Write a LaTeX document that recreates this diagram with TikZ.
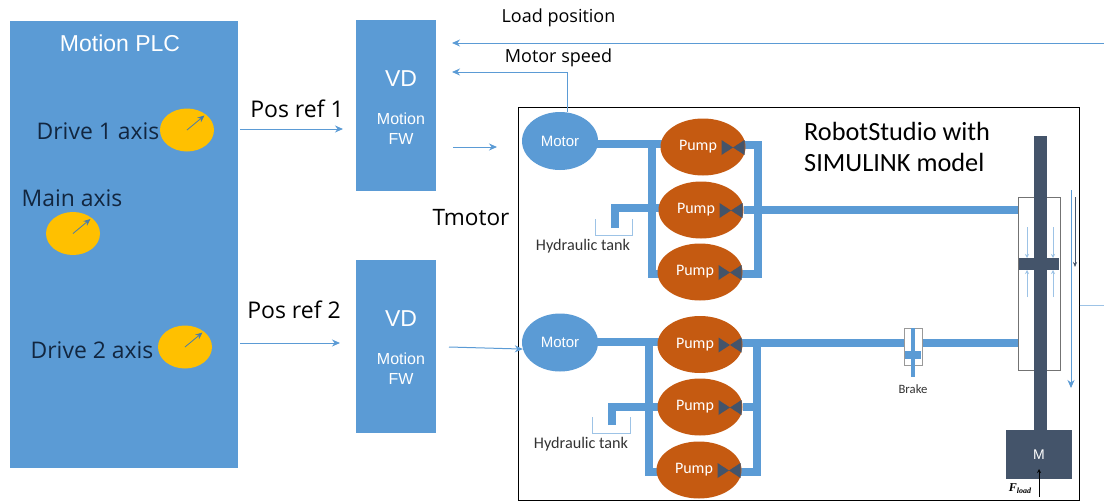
\documentclass[tikz,border=0pt]{standalone}
\usepackage{fontspec}
\setmainfont{Open Sans}
\newfontfamily\plcfont{Liberation Sans}
\newfontfamily\boxfont{Carlito}
\newfontfamily\forcefont{Liberation Serif}
\usepackage{tikz}
\usetikzlibrary{arrows.meta,backgrounds,shapes.geometric}
\definecolor{plcblue}{HTML}{5B9BD5}
\definecolor{pumporange}{HTML}{C55A11}
\definecolor{axisyellow}{HTML}{FFC000}
\definecolor{rodslate}{HTML}{44546A}
\definecolor{plctext}{HTML}{12263F}
\definecolor{tankline}{HTML}{9DC3E6}
\newcommand{\fsz}[1]{\fontsize{#1}{#1}\selectfont}
\newcommand{\pumptext}{\hspace*{-10pt}\raisebox{-4pt}{Pump}}
\tikzset{
  bluebox/.style={fill=plcblue,text=white,inner sep=0pt,align=center},
  motorell/.style={ellipse,fill=plcblue,text=white,minimum width=76pt,minimum height=58pt,inner sep=0pt,font=\plcfont\fsz{15}},
  pumpell/.style={ellipse,fill=pumporange,text=white,minimum width=85pt,minimum height=57pt,inner sep=0pt,font=\boxfont\fsz{16}},
  axisell/.style={ellipse,fill=axisyellow,minimum width=54pt,minimum height=43pt,inner sep=0pt},
  valve/.style={fill=rodslate},
  pipe/.style={draw=plcblue,line width=8pt},
  sig/.style={draw=plcblue,line width=1pt,-{Stealth[length=8pt,width=7pt]}},
  thinsig/.style={draw=plcblue,line width=0.6pt,-{Stealth[length=4pt,width=4pt]}},
  tank/.style={draw=tankline,line width=1pt},
  lbl/.style={inner sep=0pt,text=black},
  axislbl/.style={inner sep=0pt,text=plctext,font=\fsz{22.9}},
}
\begin{document}
\begin{tikzpicture}[x=1pt,y=-1pt]
  \useasboundingbox (0,0) rectangle (1104,501);
  % controllers
  \node[bluebox,minimum width=228pt,minimum height=447pt] (plc) at (124,244.5) {};
  \node[text=white,inner sep=0pt,font=\plcfont\fsz{23}] (plctitle) at (120,43) {Motion PLC};
  \node[bluebox,minimum width=80pt,minimum height=171pt] (vda) at (396,105.5) {};
  \node[bluebox,minimum width=80pt,minimum height=173pt] (vdb) at (396,346.5) {};
  \node[text=white,inner sep=0pt,font=\plcfont\fsz{23}] (vdatitle) at (401,79) {VD};
  \node[text=white,inner sep=0pt,align=center,font=\plcfont\fsz{16}] (vdafw) at (401,129) {Motion\\[4pt]FW};
  \node[text=white,inner sep=0pt,font=\plcfont\fsz{23}] (vdbtitle) at (401,319) {VD};
  \node[text=white,inner sep=0pt,align=center,font=\plcfont\fsz{16}] (vdbfw) at (401,369) {Motion\\[4pt]FW};
  % axes
  \node[axislbl] (drivealbl) at (98,131) {Drive 1 axis};
  \node[axislbl] (mainlbl) at (72,198) {Main axis};
  \node[axislbl] (driveblbl) at (92,350) {Drive 2 axis};
  \node[axisell] (drivea) at (187,130) {};
  \node[axisell] (mainax) at (73,233.5) {};
  \node[axisell] (driveb) at (185,347) {};
  \foreach \ax in {drivea,mainax,driveb}
    \draw[draw=plcblue!80!black,line width=0.8pt,-{Stealth[length=7pt,width=6pt]}] (\ax.center) -- ++(17.5,-14.5);
  % hydraulics box
  \begin{scope}[on background layer]
    \draw[black,line width=1pt,fill=white] (518,107.5) rectangle (1079.5,500);
  \end{scope}
  \node[lbl,align=left,anchor=west,font=\boxfont\fsz{26.3}] (robot) at (804,147) {RobotStudio with\\[5.5pt]SIMULINK model};
  \node[motorell] (motora) at (560,141) {Motor};
  \node[motorell] (motorb) at (560,342.5) {Motor};
  \node[pumpell] (pumpa) at (703,147) {\pumptext};
  \node[pumpell] (pumpb) at (701,210) {\pumptext};
  \node[pumpell] (pumpc) at (700,272) {\pumptext};
  \node[pumpell] (pumpd) at (700,344.5) {\pumptext};
  \node[pumpell] (pumpe) at (700,407) {\pumptext};
  \node[pumpell] (pumpf) at (699,470) {\pumptext};
  % valves on the pumps
  \foreach \pu in {pumpa,pumpb,pumpc,pumpd,pumpe,pumpf}
    \fill[valve] ([xshift=30pt,yshift=-1pt]\pu.center) ++(-11.5,-8) -- ++(23,15) -- ++(0,-15) -- ++(-23,15) -- cycle;
  % pipe corners
  \coordinate (uleft) at (652,144);
  \coordinate (uright) at (758,145);
  \coordinate (ubotl) at (652,274);
  \coordinate (ubotr) at (758,274);
  \coordinate (ustub) at (615,208);
  \coordinate (utank) at (615,228);
  \coordinate (lleft) at (649,342);
  \coordinate (lright) at (757,343);
  \coordinate (lbotl) at (649,472);
  \coordinate (lbotr) at (757,472);
  \coordinate (lstub) at (612,407);
  \coordinate (ltank) at (612,425);
  % cylinder parts
  \node[draw=black!55,line width=1pt,fill=white,minimum width=42pt,minimum height=173pt,inner sep=0pt] (cyl) at (1039,283.5) {};
  \fill[rodslate] (1019,258) rectangle (1059,270);
  \node[fill=rodslate,text=white,minimum width=66pt,minimum height=49pt,inner sep=0pt,font=\plcfont\fsz{14}] (mass) at (1039,454.5) {M};
  \fill[rodslate] (1034,136) rectangle (1047,430);
  \draw[thinsig,draw=tankline] (1027,227) -- (1027,258);
  \draw[thinsig,draw=tankline] (1053,227) -- (1053,258);
  \draw[thinsig,draw=tankline] (1027,297) -- (1027,270);
  \draw[thinsig,draw=tankline] (1053,297) -- (1053,270);
  % long arrows beside the cylinder
  \draw[draw=plcblue,line width=0.8pt,-{Stealth[length=8pt,width=7pt]}] (1071,190) -- (1071,388);
  \draw[draw=rodslate,line width=0.7pt,-{Stealth[length=5pt,width=4pt]}] (1075,197) -- (1075,267);
  % brake
  \node[draw=black!40,line width=0.8pt,fill=white,minimum width=18pt,minimum height=37pt,inner sep=0pt] (brake) at (913,346.5) {};
  \fill[plcblue] (911,328) rectangle (915,377);
  \fill[plcblue] (905,351) rectangle (921,359);
  \node[lbl,text=black!80,font=\boxfont\fsz{12.7}] (brakelbl) at (913,389) {Brake};
  % tanks
  \node[lbl,text=black!80,font=\boxfont\fsz{16.2}] (tanka) at (583,246) {Hydraulic tank};
  \node[lbl,text=black!80,font=\boxfont\fsz{16.2}] (tankb) at (581,444) {Hydraulic tank};
  \draw[tank] (595,219) |- (632,235) -- (632,219);
  \draw[tank] (592,417) |- (630,433) -- (630,417);
  % load force
  \node[lbl,font=\forcefont\bfseries\itshape\fsz{12}] (fload) at (1020,489) {F\raisebox{-2pt}{\fsz{8}load}};
  \coordinate (floadend) at (1039,497);
  \coordinate (floadtip) at (1039,469);
  \draw[draw=black,line width=0.5pt,-{Stealth[length=4pt,width=4pt]}] (floadend) -- (floadtip);
  % pipes go behind the pumps
  \begin{scope}[on background layer]
    \draw[pipe] (motora |- uleft) -- (pumpa |- uleft);
    \draw[pipe] (uleft) -- (ubotl) -- (pumpc |- ubotl);
    \draw[pipe] (pumpa |- uright) -- (uright) -- (ubotr) -- (pumpc |- ubotr);
    \draw[pipe] (pumpb) -- (pumpb -| cyl.west);
    \draw[pipe] (utank) -- (ustub) -- (pumpb |- ustub);
    \draw[pipe] (motorb |- lleft) -- (pumpd |- lleft);
    \draw[pipe] (lleft) -- (lbotl) -- (pumpf |- lbotl);
    \draw[pipe] (pumpd |- lright) -- (cyl.west |- lright);
    \draw[pipe] (lright) -- (lbotr) -- (pumpf |- lbotr);
    \draw[pipe] (pumpe) -- (lright |- pumpe);
    \draw[pipe] (ltank) -- (lstub) -- (pumpe |- lstub);
  \end{scope}
  % signals
  \node[lbl,font=\fsz{18}] (loadlbl) at (558.5,17.5) {Load position};
  \node[lbl,font=\fsz{18}] (speedlbl) at (558.5,58) {Motor speed};
  \node[lbl,font=\fsz{23}] (refalbl) at (297,109) {Pos ref 1};
  \node[lbl,font=\fsz{23}] (refblbl) at (294,310) {Pos ref 2};
  \node[lbl,font=\fsz{22.6}] (tmotor) at (471,218) {Tmotor};
  \coordinate (loadin) at (1104,43);
  \coordinate (loadhd) at (452,43);
  \coordinate (speedup) at (567,72);
  \coordinate (speedhd) at (452,72);
  \coordinate (feedin) at (1079.5,305);
  \coordinate (feedout) at (1104,305);
  \coordinate (refaout) at (240,129);
  \coordinate (refain) at (343,129);
  \coordinate (refbout) at (240,343);
  \coordinate (refbin) at (340,343);
  \coordinate (toruna) at (453,147);
  \coordinate (torina) at (497,147);
  \coordinate (torunb) at (449,347);
  \draw[sig] (loadin) -- (loadhd);
  \draw[sig] (motora.north -| speedup) -- (speedup) -- (speedhd);
  \draw[draw=tankline,line width=1pt] (feedin) -- (feedout);
  \draw[sig] (refaout) -- (refain);
  \draw[sig] (refbout) -- (refbin);
  \draw[sig] (toruna) -- (torina);
  \draw[sig] (torunb) -- (motorb.190);
\end{tikzpicture}
\end{document}
